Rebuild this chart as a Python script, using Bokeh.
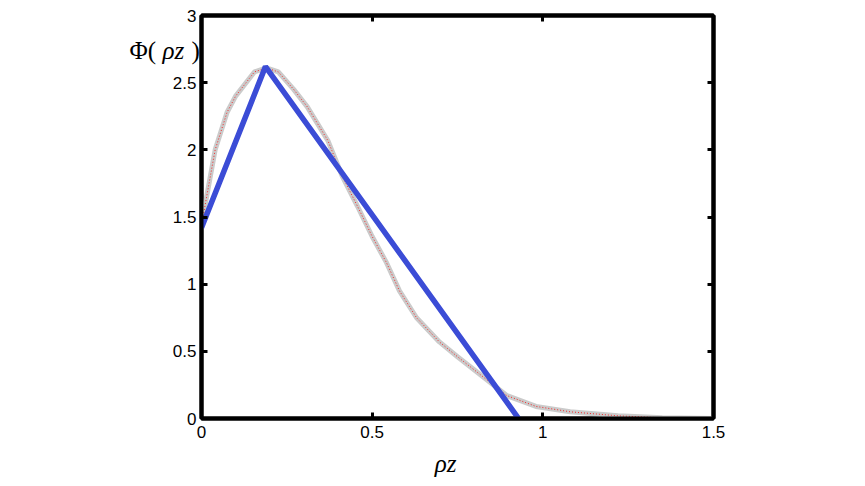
from bokeh.plotting import figure
from bokeh.models import Range1d, LinearAxis, FixedTicker, Label, CustomJSTickFormatter
from bokeh.embed import file_html
from bokeh.resources import INLINE

# smooth reference curve
curve_x = [0.0, 0.01, 0.04, 0.075, 0.10, 0.155, 0.19, 0.225, 0.27, 0.31, 0.37,
           0.413, 0.457, 0.50, 0.542, 0.58, 0.63, 0.697, 0.75, 0.835, 0.895,
           0.98, 1.08, 1.22, 1.35, 1.5]
curve_y = [1.42, 1.58, 2.00, 2.28, 2.40, 2.58, 2.61, 2.58, 2.45, 2.32, 2.07,
           1.80, 1.58, 1.355, 1.16, 0.95, 0.75, 0.57, 0.46, 0.29, 0.17,
           0.09, 0.05, 0.02, 0.005, 0.0]

# piecewise linear approximation
tri_x = [0.0, 0.1875, 0.929]
tri_y = [1.42, 2.62, 0.0]

x_ticks = [0, 0.5, 1, 1.5]
y_ticks = [0, 0.5, 1, 1.5, 2, 2.5, 3]

p = figure(width=849, height=478, output_backend="svg", toolbar_location=None,
           x_range=Range1d(0, 1.5), y_range=Range1d(0, 3),
           min_border_left=201, min_border_right=136,
           min_border_top=15, min_border_bottom=60)

p.grid.visible = False
p.outline_line_color = "black"
p.outline_line_width = 4

for ax in p.xaxis + p.yaxis:
    ax.axis_line_width = 4
    ax.axis_line_color = "black"
    ax.major_tick_in = 6
    ax.major_tick_out = 0
    ax.major_tick_line_width = 3
    ax.minor_tick_line_color = None
    ax.major_label_text_font = "Liberation Sans"
    ax.major_label_text_font_size = "17px"
    ax.major_label_text_color = "black"
p.xaxis.ticker = FixedTicker(ticks=x_ticks)
p.yaxis.ticker = FixedTicker(ticks=y_ticks)
p.xaxis.major_label_standoff = 7
p.yaxis.major_label_standoff = 5

blank = CustomJSTickFormatter(code="return ''")
top = LinearAxis(ticker=FixedTicker(ticks=x_ticks), formatter=blank)
right = LinearAxis(ticker=FixedTicker(ticks=y_ticks), formatter=blank)
for ax in (top, right):
    ax.axis_line_width = 4
    ax.major_tick_in = 6
    ax.major_tick_out = 0
    ax.major_tick_line_width = 3
    ax.minor_tick_line_color = None
    ax.major_label_standoff = 0
p.add_layout(top, "above")
p.add_layout(right, "right")

n_red = curve_x.index(1.35) + 1
p.line(curve_x, curve_y, line_color="#cbcbcb", line_width=5)
p.line(curve_x[:n_red], curve_y[:n_red], line_color="red", line_width=1,
       line_dash="1 2", line_alpha=0.8)
p.line(tri_x, tri_y, line_color="#3b4cd6", line_width=5.5)

# axis titles live in side panels so they are not clipped to the frame
lab_kw = dict(text_font="Liberation Serif", text_font_size="25px",
              text_baseline="middle", text_color="black",
              x_units="screen", y_units="screen")
p.add_layout(Label(x=-13, y=368, text="Φ(", text_align="left", **lab_kw), "left")
p.add_layout(Label(x=42, y=368, text="ρz", text_align="left",
                   text_font_style="italic", **lab_kw), "left")
p.add_layout(Label(x=79, y=368, text=")", text_align="left", **lab_kw), "left")
p.add_layout(Label(x=244, y=4, text="ρz", text_align="center",
                   text_font_style="italic", **lab_kw), "below")

open("out.html", "w").write(file_html(p, INLINE))
